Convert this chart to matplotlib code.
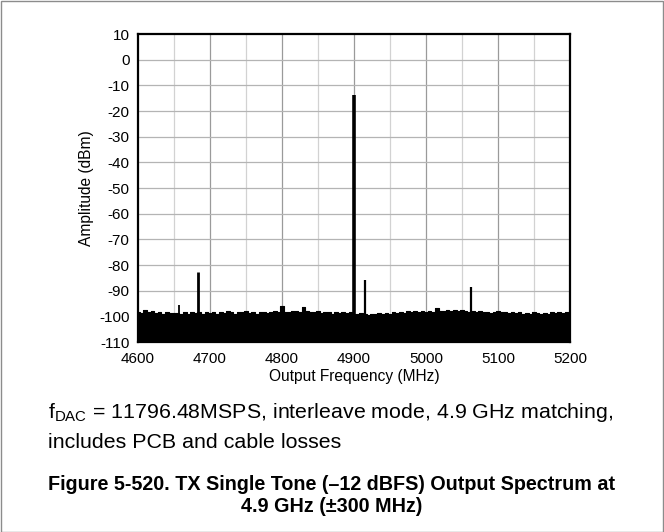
import numpy as np
import matplotlib
matplotlib.use("Agg")
import matplotlib.pyplot as plt
from matplotlib.patches import Rectangle

plt.rcParams['font.family'] = ['Liberation Sans', 'DejaVu Sans']
plt.rcParams['axes.unicode_minus'] = False

# ---- data ----
noise_start = 4600
noise_step = 5
noise_floor = [
    -98.5,
    -98.8, -97.6, -98.2, -98.0, -98.6, -98.4, -99.0, -98.2, -98.8, -98.6,
    -98.6, -98.9, -98.3, -99.1, -98.5, -98.8, -98.3, -98.9, -98.4, -98.7,
    -98.5, -98.9, -98.2, -98.6, -98.0, -98.4, -98.9, -98.2, -98.5, -98.1,
    -98.6, -98.3, -98.9, -98.4, -98.2, -98.7, -98.5, -98.0, -98.4, -96.0,
    -98.2, -98.5, -98.1, -97.8, -98.3, -96.5, -97.8, -98.2, -98.5, -98.0,
    -98.6, -98.2, -98.4, -98.9, -98.3, -98.6, -98.2, -98.8, -98.5, -99.0,
    -99.2, -98.8, -99.0, -99.3, -98.9, -99.2, -98.7, -99.0, -98.6, -98.9,
    -98.5, -98.8, -98.3, -98.6, -98.1, -98.4, -98.0, -98.3, -97.9, -98.2,
    -97.9, -98.2, -96.8, -97.8, -98.1, -97.6, -97.9, -97.5, -97.8, -97.6,
    -97.9, -98.2, -97.8, -98.3, -98.0, -98.4, -98.2, -98.6, -98.3, -98.1,
    -98.5, -98.2, -98.7, -98.4, -98.8, -98.5, -99.0, -98.6, -98.9, -98.5,
    -98.8, -99.0, -98.6, -98.9, -98.5, -98.8, -98.4, -98.7, -98.5, -98.3,
]
tone_freqs = [4657, 4683, 4900, 4915, 5062]
tone_levels = [-95.5, -82.7, -13.8, -86.0, -88.5]
tone_widths = [1.3, 2.0, 2.6, 1.6, 1.6]

x_ticks = [4600, 4700, 4800, 4900, 5000, 5100, 5200]
y_ticks = [10, 0, -10, -20, -30, -40, -50, -60, -70, -80, -90, -100, -110]

W, H = 664, 532
fig = plt.figure(figsize=(W / 100, H / 100), dpi=100)

# outer border
fig.patches.append(Rectangle((0.5 / W, 0.5 / H), 1 - 1.5 / W, 1 - 1.5 / H,
                             transform=fig.transFigure, fill=False,
                             edgecolor='#8c8c8c', linewidth=1.0))

left, right, top, bottom = 138, 570, 34, 342
ax = fig.add_axes([left / W, 1 - bottom / H, (right - left) / W, (bottom - top) / H])

ax.set_xlim(4600, 5200)
ax.set_ylim(-110, 10)

# grid
for xv in np.arange(4650, 5200, 50):
    dark = (xv % 100 == 0)
    ax.axvline(xv, color='#9a9a9a' if dark else '#d2d2d2', lw=0.9, zorder=0)
for yv in y_ticks[1:-1]:
    ax.axhline(yv, color='#b4b4b4', lw=0.9, zorder=0)

freqs = noise_start + noise_step * np.arange(len(noise_floor))
ax.fill_between(freqs, -110, noise_floor, step='mid', color='black', lw=0, zorder=2)
ax.step(freqs, noise_floor, where='mid', color='black', lw=0.8, zorder=2)

ax.vlines(tone_freqs, -110, tone_levels, colors='black', linewidth=tone_widths, zorder=3)

ax.set_xticks(x_ticks)
ax.set_yticks(y_ticks)
ax.tick_params(length=0, labelsize=11)
ax.tick_params(axis='x', pad=7)
ax.tick_params(axis='y', pad=6)
for s in ax.spines.values():
    s.set_linewidth(1.6)
    s.set_color('black')

ax.set_xlabel('Output Frequency (MHz)', fontsize=11.2, labelpad=2)
ax.set_ylabel('Amplitude (dBm)', fontsize=11.2, labelpad=4)

# caption
fig.text(48 / W, 1 - 413 / H, r'f$_{\mathregular{DAC}}$ = 11796.48MSPS, interleave mode, 4.9 GHz matching,',
         fontsize=15.4, ha='left', va='center')
fig.text(48 / W, 1 - 442 / H, 'includes PCB and cable losses',
         fontsize=15.4, ha='left', va='center')
fig.text(0.5, 1 - 484 / H, 'Figure 5-520. TX Single Tone (\u201312 dBFS) Output Spectrum at',
         fontsize=14.2, ha='center', va='center', fontweight='bold')
fig.text(0.5, 1 - 507 / H, '4.9 GHz (\u00b1300 MHz)',
         fontsize=14.2, ha='center', va='center', fontweight='bold')

fig.savefig('out.png', dpi=100)
